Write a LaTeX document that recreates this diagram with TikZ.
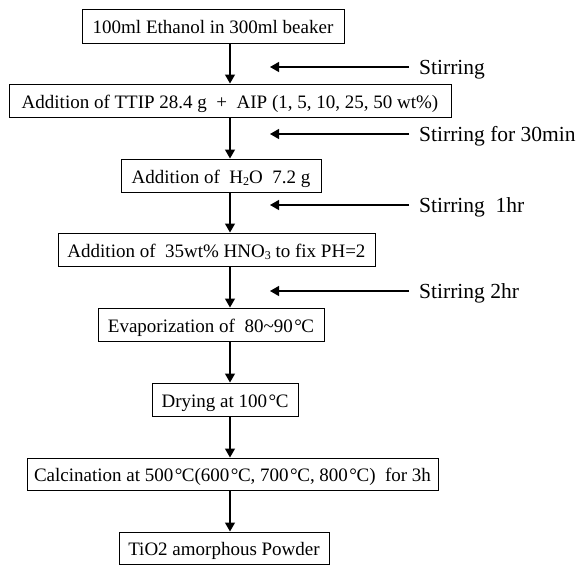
\documentclass[tikz,border=0pt]{standalone}
\usepackage{fontspec}
\setmainfont{Liberation Serif}
\usetikzlibrary{arrows.meta}
\newcommand{\degc}{\kern1.5pt°\kern-0.5pt C}
\newcommand{\lowsub}[1]{\raisebox{-0.3ex}{\fontsize{12}{12}\selectfont #1}}
\tikzset{
  box/.style={draw, line width=1pt, inner sep=0pt, minimum height=33pt,
    text height=15pt, text depth=0pt, font=\fontsize{19}{19}\selectfont},
  arr/.style={line width=1.2pt, -{Triangle[width=10pt,length=9pt]}},
  side/.style={anchor=base west, inner sep=0pt, font=\fontsize{21.5}{21.5}\selectfont}
}
\begin{document}
\begin{tikzpicture}[x=1pt,y=-1pt]
\useasboundingbox (0,0) rectangle (577,565);
\coordinate (spine) at (230,0);
\node[box, minimum width=262pt, minimum height=34pt] (b1) at (213,26) {100ml Ethanol in 300ml beaker};
\node[box, minimum width=442pt] (b2) at (230,100.5) {Addition of TTIP 28.4 g\ \ +\ \ AIP (1, 5, 10, 25, 50 wt\%)};
\node[box, minimum width=200pt] (b3) at (221,175.5) {Addition of\ \ H\lowsub{2}O\ \ 7.2 g};
\node[box, minimum width=317pt] (b4) at (216.5,249.5) {Addition of\ \ 35wt\% HNO\lowsub{3} to fix PH=2};
\node[box, minimum width=226pt] (b5) at (211,324.5) {Evaporization of\ \ 80\char`~90\degc};
\node[box, minimum width=146pt] (b6) at (225,399.5) {Drying at 100\degc};
\node[box, minimum width=411pt, minimum height=32pt] (b7) at (232.5,474) {Calcination at 500\degc(600\degc, 700\degc, 800\degc)\ \ for 3h};
\node[box, minimum width=210pt, minimum height=32pt] (b8) at (224,548) {TiO2 amorphous Powder};

\draw[arr] (b1.south -| spine) -- (b2.north -| spine);
\draw[arr] (b2.south -| spine) -- (b3.north -| spine);
\draw[arr] (b3.south -| spine) -- (b4.north -| spine);
\draw[arr] (b4.south -| spine) -- (b5.north -| spine);
\draw[arr] (b5.south -| spine) -- (b6.north -| spine);
\draw[arr] (b6.south -| spine) -- (b7.north -| spine);
\draw[arr] (b7.south -| spine) -- (b8.north -| spine);

\node[side] (s1) at (419,74.2) {Stirring};
\node[side] (s2) at (419,141.2) {Stirring for 30min};
\node[side] (s3) at (419,212.2) {Stirring\ \ 1hr};
\node[side] (s4) at (419,298.2) {Stirring 2hr};
\coordinate (a1s) at (409,67);  \coordinate (a1e) at (270,67);
\coordinate (a2s) at (409,134); \coordinate (a2e) at (270,134);
\coordinate (a3s) at (409,205); \coordinate (a3e) at (270,205);
\coordinate (a4s) at (409,291); \coordinate (a4e) at (270,291);
\draw[arr] (a1s) -- (a1e);
\draw[arr] (a2s) -- (a2e);
\draw[arr] (a3s) -- (a3e);
\draw[arr] (a4s) -- (a4e);
\end{tikzpicture}
\end{document}
